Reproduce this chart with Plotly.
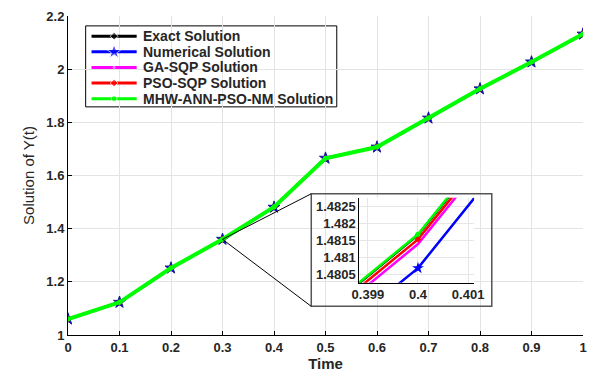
import plotly.graph_objects as go

t = [0, 0.1, 0.2, 0.3, 0.4, 0.5, 0.6, 0.7, 0.8, 0.9, 1.0]
exact = [1.06, 1.123, 1.252, 1.36, 1.48167, 1.665, 1.707, 1.816, 1.926, 2.027, 2.132]
numerical = [1.06, 1.123, 1.252, 1.36, 1.48069, 1.665, 1.707, 1.816, 1.926, 2.027, 2.132]
ga_sqp = [1.06, 1.123, 1.252, 1.36, 1.48140, 1.665, 1.707, 1.816, 1.926, 2.027, 2.132]
pso_sqp = [1.06, 1.123, 1.252, 1.36, 1.48154, 1.665, 1.707, 1.816, 1.926, 2.027, 2.132]
mhw = [1.06, 1.123, 1.252, 1.36, 1.48169, 1.665, 1.707, 1.816, 1.926, 2.027, 2.132]

names = ["Exact Solution", "Numerical Solution", "GA-SQP Solution",
         "PSO-SQP Solution", "MHW-ANN-PSO-NM Solution"]
series = [exact, numerical, ga_sqp, pso_sqp, mhw]
colors = ["#000000", "#0000ff", "#ff00ff", "#ff0000", "#00ff00"]
symbols = ["diamond", "star", "circle", "diamond", "circle"]
msizes = [5, 9, 1, 5, 5]
widths = [2.5, 2.5, 2.5, 2.5, 4]

inset_xticks = [0.399, 0.4, 0.401]
inset_yticks = [1.4805, 1.481, 1.4815, 1.482, 1.4825]

FONT = "Liberation Sans, Arial, sans-serif"
TXT = "#262626"

# plot area geometry (pixels)
W, H = 602, 378
L, R, T, B = 68, 593, 14, 337

def px(x):
    return (x - L) / (R - L)

def py(y):
    return (B - y) / (B - T)

fig = go.Figure()
# main plot
for name, ys, c, s, m, w in zip(names, series, colors, symbols, msizes, widths):
    fig.add_trace(go.Scatter(
        x=t, y=ys, name=name, mode="lines+markers", showlegend=False,
        line=dict(color=c, width=w),
        marker=dict(symbol=s, size=m, color=c,
                    line=dict(color="#1a1a8a" if s == "star" else c, width=1 if s == "star" else 0)),
        xaxis="x", yaxis="y"))
# inset
for name, ys, c, s, m in zip(names, series, colors, symbols, msizes):
    fig.add_trace(go.Scatter(
        x=t, y=ys, name=name, mode="lines+markers", showlegend=False,
        line=dict(color=c, width=2.5),
        marker=dict(symbol=s, size=m, color=c),
        xaxis="x2", yaxis="y2"))

# custom legend (MATLAB-like compact layout) drawn on an overlay axis in paper units
LEG_L, LEG_T, LEG_R, LEG_B = 86, 24, 342, 106
row0, rowgap = 34.5, 15.8
line_x0, line_x1, text_x = 92, 138, 142
annotations = []
for i, (name, c, s, m) in enumerate(zip(names, colors, symbols, msizes)):
    yy = py(row0 + i * rowgap)
    fig.add_trace(go.Scatter(
        x=[px(line_x0), px((line_x0 + line_x1) / 2), px(line_x1)], y=[yy, yy, yy],
        mode="lines+markers", showlegend=False, hoverinfo="skip",
        line=dict(color=c, width=3),
        marker=dict(symbol=s, size=[0, m + (2 if s == "star" else 1), 0], color=c),
        xaxis="x3", yaxis="y3"))
    annotations.append(dict(
        x=px(text_x), y=yy, xref="paper", yref="paper", text=name,
        showarrow=False, xanchor="left", yanchor="middle",
        font=dict(family=FONT, size=14, color=TXT, weight="bold")))

box = dict(x0=px(316), x1=px(500), y0=py(308), y1=py(194))
ylo, yhi = 1.0, 2.2

shapes = [
    dict(type="rect", xref="paper", yref="paper", x0=px(LEG_L), x1=px(LEG_R),
         y0=py(LEG_B), y1=py(LEG_T), line=dict(color="black", width=1),
         fillcolor="white", layer="between"),
    dict(type="rect", xref="paper", yref="paper", **box,
         line=dict(color="#555555", width=1.5), fillcolor="rgba(0,0,0,0)", layer="above"),
    dict(type="line", xref="x", yref="y", x0=t[3], y0=exact[3],
         x1=box["x0"], y1=ylo + (yhi - ylo) * box["y1"], line=dict(color="black", width=1)),
    dict(type="line", xref="x", yref="y", x0=t[3], y0=exact[3],
         x1=box["x0"], y1=ylo + (yhi - ylo) * box["y0"], line=dict(color="black", width=1)),
]

tickfont = dict(family=FONT, size=13, color=TXT, weight="bold")

fig.update_layout(
    width=W, height=H,
    margin=dict(l=L, r=W - R, t=T, b=H - B),
    paper_bgcolor="white", plot_bgcolor="white",
    showlegend=False,
    xaxis=dict(range=[0, 1], tickvals=t, showgrid=True, gridcolor="#e3e3e3",
               showline=True, linecolor="black", linewidth=1, zeroline=False,
               ticks="inside", ticklen=4, tickcolor="black",
               tickfont=tickfont,
               title=dict(text="Time", font=dict(family=FONT, size=15, color=TXT, weight="bold"), standoff=4)),
    yaxis=dict(range=[ylo, yhi], dtick=0.2, showgrid=True, gridcolor="#e3e3e3",
               showline=True, linecolor="black", linewidth=1, zeroline=False,
               ticks="inside", ticklen=4, tickcolor="black",
               tickfont=tickfont,
               title=dict(text="Solution of Y(t)", font=dict(family=FONT, size=15, color=TXT), standoff=8)),
    xaxis2=dict(domain=[px(365), px(482)], anchor="y2", range=[0.39883, 0.40112],
                tickvals=inset_xticks, ticktext=[str(v) for v in inset_xticks],
                showgrid=True, gridcolor="#e6e6e6", showline=True, linecolor="black",
                linewidth=1, zeroline=False, tickfont=tickfont),
    yaxis2=dict(domain=[py(284), py(198)], anchor="x2", range=[1.48026, 1.48277],
                tickvals=inset_yticks, ticktext=[str(v) for v in inset_yticks],
                showgrid=True, gridcolor="#e6e6e6", showline=True, linecolor="black",
                linewidth=1, zeroline=False, tickfont=tickfont),
    xaxis3=dict(domain=[0, 1], range=[0, 1], anchor="y3", overlaying="x", visible=False),
    yaxis3=dict(domain=[0, 1], range=[0, 1], anchor="x3", overlaying="y", visible=False),
    shapes=shapes,
    annotations=annotations,
)

fig.write_html("out.html")
